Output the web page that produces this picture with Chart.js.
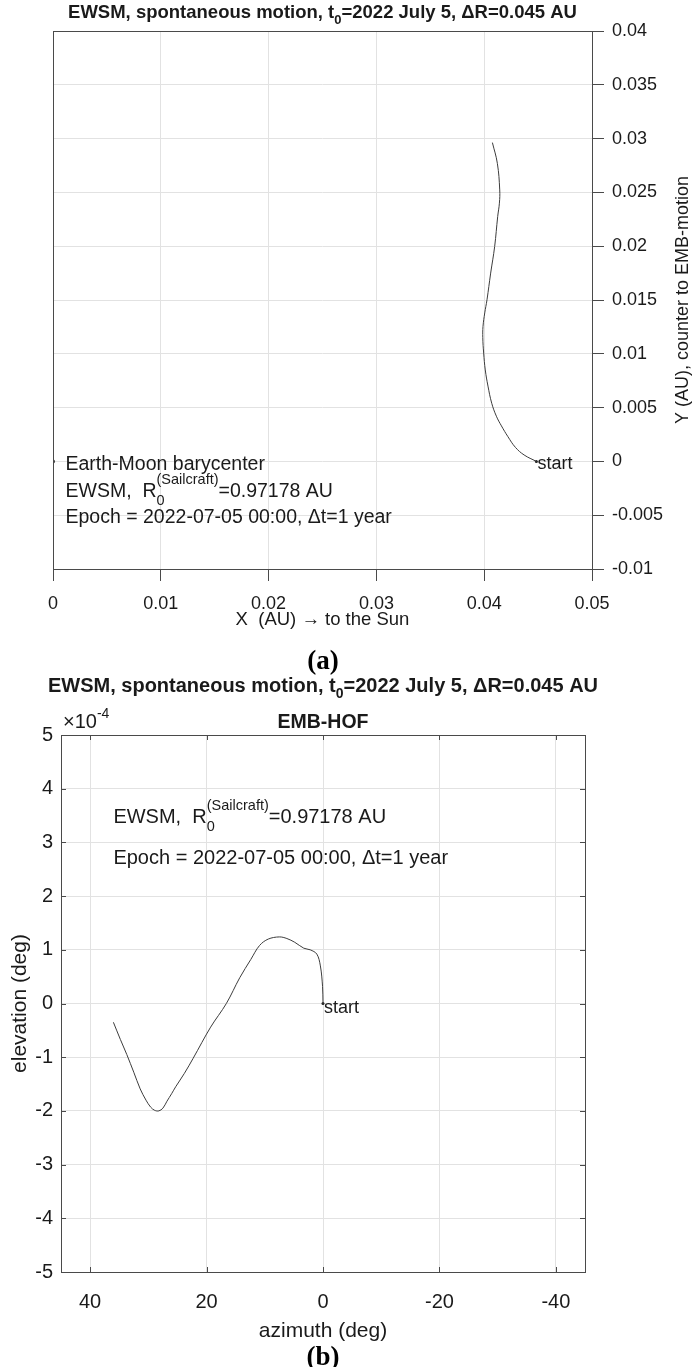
<!DOCTYPE html>
<html><head><meta charset="utf-8">
<script src="https://cdn.jsdelivr.net/npm/chart.js@4.4.1/dist/chart.umd.min.js"></script>
<style>
html,body{margin:0;padding:0;background:#fff;width:692px;height:1367px;overflow:hidden;position:relative}
canvas{position:absolute;left:0}
#ca{top:0}
#cb{top:650px}
.lab{position:absolute;left:0;width:646px;text-align:center;font-family:"Liberation Serif","DejaVu Serif",serif;font-weight:bold;font-size:27px;line-height:30px;color:#000}
</style></head><body>
<canvas id="ca" width="692" height="650"></canvas>
<canvas id="cb" width="692" height="717"></canvas>
<div class="lab" style="top:645px">(a)</div>
<div class="lab" style="top:1341px">(b)</div>
<script>
// ---------- data: panel (a) ----------
const xTicksA = [0, 0.01, 0.02, 0.03, 0.04, 0.05];
const yTicksA = [-0.01, -0.005, 0, 0.005, 0.01, 0.015, 0.02, 0.025, 0.03, 0.035, 0.04];
const pathXA = [0.04484, 0.04370, 0.04290, 0.04220, 0.04160, 0.04113, 0.04070, 0.04035, 0.04010, 0.03995, 0.03987, 0.03989, 0.04005, 0.04026, 0.04060, 0.04097, 0.04125, 0.04141, 0.04144, 0.04122, 0.04076];
const pathYA = [0, 0.0006, 0.0013, 0.0023, 0.0033, 0.0042, 0.0054, 0.0070, 0.0085, 0.01007, 0.0115, 0.01254, 0.0138, 0.01502, 0.0175, 0.01997, 0.02275, 0.0240, 0.02523, 0.0277, 0.02963];
const baryX = [0];
const baryY = [0];
// ---------- data: panel (b) ----------
const xTicksB = [40, 20, 0, -20, -40];
const yTicksB = [-5, -4, -3, -2, -1, 0, 1, 2, 3, 4, 5];
const azimuthB = [0, 0.08, 0.45, 1.06, 2.2, 3.3, 4.85, 6.2, 7.5, 9.4, 10.9, 12.4, 14.3, 16.6, 19.3, 22.3, 23.8, 25.3, 26.0, 26.8, 27.5, 28.2, 28.9, 29.6, 30.4, 31.4, 32.5, 33.7, 34.8, 36.0];
const elevationB = [0, 0.32, 0.70, 0.92, 1.0, 1.03, 1.14, 1.21, 1.24, 1.2, 1.08, 0.82, 0.48, 0.0, -0.44, -1.02, -1.30, -1.55, -1.68, -1.82, -1.95, -2.0, -1.99, -1.93, -1.80, -1.59, -1.28, -0.95, -0.67, -0.35]; // x 1e-4 deg

const FAM = "'Liberation Sans', Arial, Helvetica, sans-serif";
const TXT = '#1a1a1a';
const AXC = '#4a4a4a';
const GRID = '#e2e2e2';

function segW(ctx, s, wt){
  ctx.font = `${wt} ${s.s}px ${FAM}`;
  if (s.stack) return Math.max(ctx.measureText(s.sub).width, ctx.measureText(s.sup).width);
  return ctx.measureText(s.t).width;
}
function drawRich(ctx, segs, x, y, align, wt){
  wt = wt || 'normal';
  const ws = segs.map(s => segW(ctx, s, wt));
  const tot = ws.reduce((a,b)=>a+b, 0);
  let cx = align === 'center' ? x - tot/2 : (align === 'right' ? x - tot : x);
  ctx.save();
  ctx.fillStyle = TXT; ctx.textAlign = 'left'; ctx.textBaseline = 'alphabetic';
  segs.forEach((s,i)=>{
    ctx.font = `${wt} ${s.s}px ${FAM}`;
    if (s.stack){ ctx.fillText(s.sub, cx, y + s.dsub); ctx.fillText(s.sup, cx, y + s.dsup); }
    else ctx.fillText(s.t, cx, y + (s.dy||0));
    cx += ws[i];
  });
  ctx.restore();
}
function fmt(v){ return String(Number(v.toFixed(4))); }
function box(chart){
  const a = chart.chartArea, c = chart.ctx;
  c.save(); c.strokeStyle = AXC; c.lineWidth = 1;
  c.strokeRect(Math.round(a.left)+0.5, Math.round(a.top)+0.5, Math.round(a.right-a.left), Math.round(a.bottom-a.top));
  c.restore();
}
function titleSegs(size){
  return [{t:'EWSM, spontaneous motion, t', s:size},{t:'0', s:Math.round(size*0.72), dy:6},{t:'=2022 July 5, \u0394R=0.045 AU', s:size}];
}
function rSegs(size){
  return [{t:'EWSM,  R', s:size},{stack:true, sub:'0', sup:'(Sailcraft)', s:14.5, dsub:8, dsup:-13},{t:'=0.97178 AU', s:size}];
}

// ---------- chart (a) ----------
const plugA = {
  id:'textA',
  afterDraw(chart){
    const c = chart.ctx, a = chart.chartArea, sx = chart.scales.x, sy = chart.scales.y;
    box(chart);
    const cx = (a.left + a.right)/2;
    drawRich(c, titleSegs(18.5), cx, 18, 'center', 'bold');
    const x0 = sx.getPixelForValue(baryX[0]) + 12.5, y0 = sy.getPixelForValue(baryY[0]);
    drawRich(c, [{t:'Earth-Moon barycenter', s:19.5}], x0, y0 + 8.5, 'left');
    drawRich(c, rSegs(19.5), x0, y0 + 35.5, 'left');
    drawRich(c, [{t:'Epoch = 2022-07-05 00:00, \u0394t=1 year', s:19.5}], x0, y0 + 61.5, 'left');
    const spx = sx.getPixelForValue(pathXA[0]), spy = sy.getPixelForValue(pathYA[0]);
    drawRich(c, [{t:'start', s:18}], spx + 1, spy + 7.5, 'left');
    drawRich(c, [{t:'X  (AU) \u2192 to the Sun', s:18.5}], cx, 625, 'center');
    c.save(); c.translate(688, (a.top + a.bottom)/2); c.rotate(-Math.PI/2);
    drawRich(c, [{t:'Y (AU), counter to EMB-motion', s:18}], 0, 0, 'center');
    c.restore();
  }
};
new Chart(document.getElementById('ca'), {
  type:'scatter',
  data:{datasets:[
    {data: pathXA.map((x,i)=>({x:x, y:pathYA[i]})), showLine:true, borderColor:'#3c3c3c', borderWidth:1, pointRadius:0, tension:0.4, fill:false},
    {data: baryX.map((x,i)=>({x:x, y:baryY[i]})), pointRadius:2, backgroundColor:'#333', borderWidth:0},
    {data: [{x:pathXA[0], y:pathYA[0]}], pointRadius:1.5, backgroundColor:'#222', borderWidth:0}
  ]},
  options:{
    responsive:false, animation:false, devicePixelRatio:1,
    layout:{padding:{left:53, top:31, right:0, bottom:0}},
    plugins:{legend:{display:false}, tooltip:{enabled:false}, title:{display:false}},
    scales:{
      x:{type:'linear', position:'bottom', min:0, max:0.05,
        afterBuildTicks:s=>{ s.ticks = xTicksA.map(v=>({value:v})); },
        afterFit:s=>{ s.height = 81; },
        grid:{color:GRID, tickColor:AXC, tickLength:12, drawTicks:true},
        border:{display:true, color:AXC, width:1},
        ticks:{font:{family:FAM, size:18}, color:TXT, padding:12, maxRotation:0, callback:v=>fmt(v)}
      },
      y:{type:'linear', position:'right', min:-0.01, max:0.04,
        afterBuildTicks:s=>{ s.ticks = yTicksA.map(v=>({value:v})); },
        afterFit:s=>{ s.width = 100; },
        grid:{color:GRID, tickColor:AXC, tickLength:12, drawTicks:true},
        border:{display:true, color:AXC, width:1},
        ticks:{font:{family:FAM, size:18}, color:TXT, padding:8, callback:v=>fmt(v)}
      }
    }
  },
  plugins:[plugA]
});

// ---------- chart (b) ----------
const plugB = {
  id:'textB',
  afterDraw(chart){
    const c = chart.ctx, a = chart.chartArea, sx = chart.scales.x, sy = chart.scales.y;
    c.save(); c.strokeStyle = AXC; c.lineWidth = 1; c.beginPath();
    xTicksB.forEach(v=>{ const p = Math.round(sx.getPixelForValue(v))+0.5;
      c.moveTo(p, a.bottom); c.lineTo(p, a.bottom-5); c.moveTo(p, a.top); c.lineTo(p, a.top+5); });
    yTicksB.forEach(v=>{ const p = Math.round(sy.getPixelForValue(v))+0.5;
      c.moveTo(a.left, p); c.lineTo(a.left+5, p); c.moveTo(a.right, p); c.lineTo(a.right-5, p); });
    c.stroke(); c.restore();
    box(chart);
    const cx = (a.left + a.right)/2;
    drawRich(c, titleSegs(20), cx, 42, 'center', 'bold');
    drawRich(c, [{t:'EMB-HOF', s:19.5}], cx, 78, 'center', 'bold');
    drawRich(c, [{t:'\u00d710', s:20},{t:'-4', s:14, dy:-10}], a.left + 2, 78, 'left');
    const ax = sx.getPixelForValue(36);
    drawRich(c, rSegs(20), ax, 173, 'left');
    drawRich(c, [{t:'Epoch = 2022-07-05 00:00, \u0394t=1 year', s:20}], ax, 214, 'left');
    const spx = sx.getPixelForValue(azimuthB[0]), spy = sy.getPixelForValue(elevationB[0]);
    drawRich(c, [{t:'start', s:18}], spx + 1, spy + 9, 'left');
    drawRich(c, [{t:'azimuth (deg)', s:21}], cx, 687, 'center');
    c.save(); c.translate(26, (a.top + a.bottom)/2); c.rotate(-Math.PI/2);
    drawRich(c, [{t:'elevation (deg)', s:21}], 0, 0, 'center');
    c.restore();
  }
};
new Chart(document.getElementById('cb'), {
  type:'scatter',
  data:{datasets:[
    {data: azimuthB.map((x,i)=>({x:x, y:elevationB[i]})), showLine:true, borderColor:'#3c3c3c', borderWidth:1, pointRadius:0, tension:0.35, fill:false},
    {data: [{x:azimuthB[0], y:elevationB[0]}], pointRadius:1.5, backgroundColor:'#222', borderWidth:0}
  ]},
  options:{
    responsive:false, animation:false, devicePixelRatio:1,
    layout:{padding:{left:0, top:85, right:107, bottom:0}},
    plugins:{legend:{display:false}, tooltip:{enabled:false}, title:{display:false}},
    scales:{
      x:{type:'linear', position:'bottom', min:-45, max:45, reverse:true,
        afterBuildTicks:s=>{ s.ticks = xTicksB.map(v=>({value:v})); },
        afterFit:s=>{ s.height = 95; },
        grid:{color:GRID, drawTicks:false},
        border:{display:true, color:AXC, width:1},
        ticks:{font:{family:FAM, size:20}, color:TXT, padding:18, maxRotation:0, callback:v=>fmt(v)}
      },
      y:{type:'linear', position:'left', min:-5, max:5,
        afterBuildTicks:s=>{ s.ticks = yTicksB.map(v=>({value:v})); },
        afterFit:s=>{ s.width = 61; },
        grid:{color:GRID, drawTicks:false},
        border:{display:true, color:AXC, width:1},
        ticks:{font:{family:FAM, size:20}, color:TXT, padding:8, callback:v=>fmt(v)}
      }
    }
  },
  plugins:[plugB]
});
</script>
</body></html>
